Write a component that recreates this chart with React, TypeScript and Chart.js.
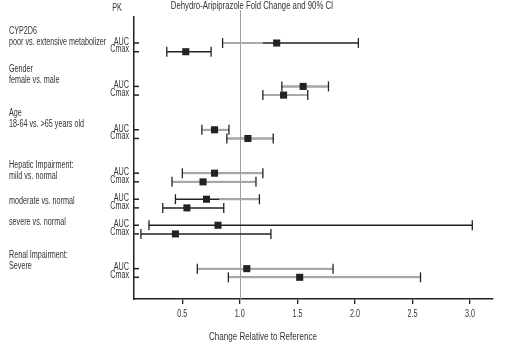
import React, { useEffect, useRef } from 'react';
import { Chart, registerables } from 'chart.js';

Chart.register(...registerables);

// Row categories (blank entries are spacer rows between groups)
const rowLabels = [
  'AUC', 'Cmax', '', '', '',
  'AUC', 'Cmax', '', '', '',
  'AUC', 'Cmax', '', '', '',
  'AUC', 'Cmax', '',
  'AUC', 'Cmax', '',
  'AUC', 'Cmax', '', '', '',
  'AUC', 'Cmax',
];

// Fold change and 90% CI, one value per non-blank row, top to bottom
const pointEstimate = [1.32, 0.53, 1.55, 1.38, 0.78, 1.07, 0.78, 0.68, 0.71, 0.54, 0.81, 0.44, 1.06, 1.52];
const lowerCI = [0.85, 0.365, 1.365, 1.2, 0.67, 0.887, 0.5, 0.41, 0.44, 0.33, 0.21, 0.14, 0.63, 0.9];
const upperCI = [2.03, 0.75, 1.77, 1.59, 0.905, 1.29, 1.2, 1.14, 1.17, 0.86, 3.02, 1.27, 1.81, 2.57];

const xTickValues = [0.5, 1.0, 1.5, 2.0, 2.5, 3.0];
const referenceValue = 1.0;

const groupLabels = [
  { lines: ['CYP2D6', 'poor vs. extensive metabolizer'], row: -0.12 },
  { lines: ['Gender', 'female vs. male'], row: 4.28 },
  { lines: ['Age', '18-64 vs. >65 years old'], row: 9.37 },
  { lines: ['Hepatic Impairment:', 'mild vs. normal'], row: 15.38 },
  { lines: ['moderate vs. normal'], row: 18.27 },
  { lines: ['severe vs. normal'], row: 20.69 },
  { lines: ['Renal Impairment:', 'Severe'], row: 25.78 },
];

const titleText = 'Dehydro-Aripiprazole Fold Change and 90% CI';
const pkText = 'PK';
const xTitleText = 'Change Relative to Reference';

// Line tone per bar: gray span [from, to] (value units) drawn gray, rest black
const GRAY = '#aaaaaa';
const BLACK = '#222222';
const grayUnits: (null | [number, number])[] = [
  [0.85, 1.2], null,
  [1.365, 1.77], [1.2, 1.59],
  [0.67, 0.905], [0.887, 1.29],
  [0.5, 1.2], [0.41, 1.14],
  [0.82, 1.17], null,
  null, null,
  [0.63, 1.81], [0.9, 2.57],
];

const FONT = '"Liberation Sans", Arial, sans-serif';
const TEXT = '#333333';
const SQUEEZE = 0.72;

const rowIndex = rowLabels.map((l, i) => (l ? i : -1)).filter((i) => i >= 0);

function narrowText(ctx: CanvasRenderingContext2D, text: string, x: number, y: number, align: CanvasTextAlign, size: number) {
  ctx.save();
  ctx.font = `${size}px ${FONT}`;
  ctx.textAlign = align;
  ctx.textBaseline = 'middle';
  ctx.translate(x, y);
  ctx.scale(SQUEEZE, 1);
  ctx.fillText(text, 0, 0);
  ctx.restore();
}

export default function App() {
  const ref = useRef<HTMLCanvasElement>(null);
  useEffect(() => {
    document.body.style.margin = '0';
    const canvas = ref.current!;
    const overlay = {
      id: 'overlay',
      beforeDatasetsDraw(chart: any) {
        const ctx = chart.ctx;
        const xs = chart.scales.x;
        const ys = chart.scales.y;
        const area = chart.chartArea;
        ctx.save();
        // reference line
        const rx = Math.round(xs.getPixelForValue(referenceValue)) + 0.5;
        ctx.strokeStyle = '#a0a0a0';
        ctx.lineWidth = 1;
        ctx.beginPath();
        ctx.moveTo(rx, 10);
        ctx.lineTo(rx, area.bottom);
        ctx.stroke();
        // inward y ticks
        ctx.strokeStyle = BLACK;
        ctx.lineWidth = 1.5;
        ys.ticks.forEach((t: any) => {
          const y = ys.getPixelForValue(t.value);
          ctx.beginPath();
          ctx.moveTo(area.left, y);
          ctx.lineTo(area.left + 5, y);
          ctx.stroke();
        });
        // CI bars
        rowIndex.forEach((r, i) => {
          const y = ys.getPixelForValue(r);
          const x0 = xs.getPixelForValue(lowerCI[i]);
          const x1 = xs.getPixelForValue(upperCI[i]);
          ctx.lineWidth = 1.5;
          ctx.strokeStyle = BLACK;
          ctx.beginPath();
          ctx.moveTo(x0, y);
          ctx.lineTo(x1, y);
          ctx.stroke();
          const g = grayUnits[i];
          if (g) {
            ctx.strokeStyle = GRAY;
            ctx.lineWidth = 2;
            ctx.beginPath();
            ctx.moveTo(xs.getPixelForValue(g[0]), y);
            ctx.lineTo(xs.getPixelForValue(g[1]), y);
            ctx.stroke();
          }
          ctx.strokeStyle = BLACK;
          ctx.lineWidth = 1.3;
          [x0, x1].forEach((x) => {
            ctx.beginPath();
            ctx.moveTo(x, y - 5);
            ctx.lineTo(x, y + 5);
            ctx.stroke();
          });
        });
        ctx.restore();
      },
      afterDraw(chart: any) {
        const ctx = chart.ctx;
        const xs = chart.scales.x;
        const ys = chart.scales.y;
        const area = chart.chartArea;
        ctx.save();
        ctx.fillStyle = TEXT;
        // y tick labels
        ys.ticks.forEach((t: any) => {
          const y = ys.getPixelForValue(t.value);
          const lab = rowLabels[t.value] ?? '';
          narrowText(ctx, lab, area.left - 5, y - (lab === 'Cmax' ? 2 : 1), 'right', 10);
        });
        // x tick labels
        xs.ticks.forEach((t: any) => {
          narrowText(ctx, Number(t.value).toFixed(1), xs.getPixelForValue(t.value), area.bottom + 15, 'center', 10);
        });
        groupLabels.forEach((g) => {
          const base = ys.getPixelForValue(g.row);
          const n = g.lines.length;
          g.lines.forEach((line, k) => {
            narrowText(ctx, line, 9, base - (n - 1 - k) * 11, 'left', 10);
          });
        });
        narrowText(ctx, pkText, 117, 8, 'center', 10);
        narrowText(ctx, titleText, 252, 6, 'center', 10.8);
        narrowText(ctx, xTitleText, 263, 337, 'center', 11.2);
        ctx.restore();
      },
    };

    const chart = new Chart(canvas, {
      type: 'scatter',
      data: {
        datasets: [
          {
            data: rowIndex.map((r, i) => ({ x: pointEstimate[i], y: r })),
            pointStyle: 'rect',
            pointRadius: 5,
            backgroundColor: BLACK,
            borderColor: BLACK,
            borderWidth: 0,
          },
        ],
      },
      options: {
        animation: false,
        responsive: false,
        layout: { padding: { top: 17, right: 14, left: 0, bottom: 0 } },
        plugins: { legend: { display: false }, tooltip: { enabled: false }, title: { display: false } },
        scales: {
          x: {
            type: 'linear',
            min: 0.08,
            max: 3.2,
            afterBuildTicks: (s: any) => {
              s.ticks = xTickValues.map((v) => ({ value: v }));
            },
            afterFit: (s: any) => {
              s.height = 56;
            },
            ticks: { display: false },
            grid: { drawOnChartArea: false, drawTicks: true, tickLength: 5, color: BLACK, lineWidth: 1.3 },
            border: { display: true, color: BLACK, width: 1.5 },
          },
          y: {
            type: 'linear',
            reverse: true,
            min: -3,
            max: 29.5,
            afterBuildTicks: (s: any) => {
              s.ticks = rowIndex.map((r) => ({ value: r }));
            },
            afterFit: (s: any) => {
              s.width = 134;
            },
            ticks: { display: false },
            grid: { display: false, drawTicks: false },
            border: { display: true, color: BLACK, width: 1.5 },
          },
        },
      },
      plugins: [overlay],
    });
    return () => chart.destroy();
  }, []);
  return <canvas ref={ref} width={507} height={355} style={{ display: 'block' }} />;
}
